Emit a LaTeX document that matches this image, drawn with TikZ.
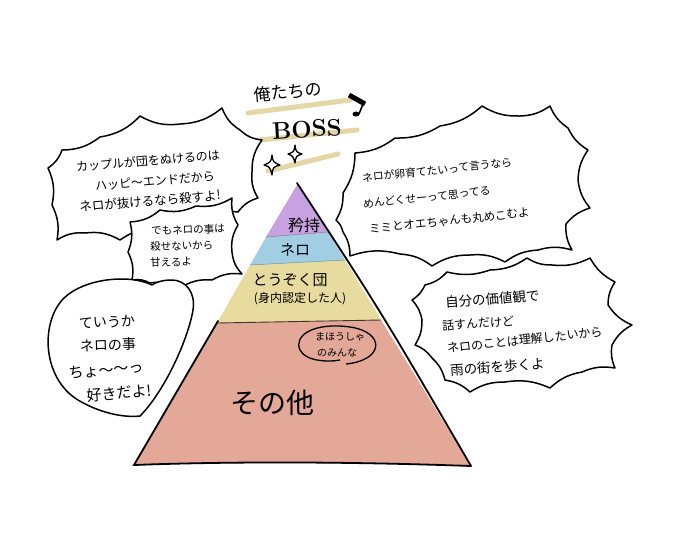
\documentclass[tikz,border=0pt]{standalone}
\usepackage{fontspec}
\newfontfamily\jp{Noto Sans CJK JP}
\definecolor{lvpurple}{RGB}{200,162,224}
\definecolor{lvblue}{RGB}{162,206,228}
\definecolor{lvyellow}{RGB}{231,219,160}
\definecolor{lvpink}{RGB}{227,168,152}
\definecolor{lvstripe}{RGB}{228,214,165}
\begin{document}
\begin{tikzpicture}[x=1pt,y=-1pt,
  bub/.style={draw=black, fill=white, line width=1.5pt, line join=round},
  jt/.style={font=\jp\fontsize{#1}{#1}\selectfont, inner sep=0pt},
  stripe/.style={draw=lvstripe, line width=5pt, line cap=round},
  sparkle/.style={draw=black, fill=white, line width=1.3pt, line join=round}]
\useasboundingbox (0,0) rectangle (680,549);
\fill[white] (0,0) rectangle (680,549);

% ---------- title ----------
\draw[stripe] (248,113) -- (350,100);
\draw[stripe] (250,141) -- (357,130);
\draw[stripe] (268,171) -- (338,154);
\node[jt=17, rotate=5] (title1) at (288,92) {俺たちの};
\node[font=\fontsize{24}{24}\selectfont\bfseries, inner sep=0pt, rotate=3] (title2) at (307,129) {BOSS};
\draw[line width=5pt] (349,95) -- (365,104);
\draw[line width=1.5pt] (363,104) -- (359,114);
\fill (356,114) ellipse (3.5 and 2.5);
\draw[sparkle] (272,155) .. controls (273,162) .. (280,165) .. controls (273,167) .. (272,175) .. controls (270,167) .. (264,165) .. controls (271,162) .. (272,155) -- cycle;
\draw[sparkle] (295,145) .. controls (296,152) .. (302,154) .. controls (296,156) .. (295,163) .. controls (293,156) .. (288,154) .. controls (294,152) .. (295,145) -- cycle;

% ---------- bubble A ----------
\draw[bub, every to/.style={bend right=18}]
  (52,205) to (48,168) to (62,150) to (100,137) to (140,116) to (180,124)
  to (222,108) to (240,130) to (262,140) to (252,172) to (258,198)
  to (238,212) to (160,228) to (120,240) to (85,233) to (57,240) to (52,205) -- cycle;
\node[jt=12, rotate=5] (a1) at (148,161) {カップルが団をぬけるのは};
\node[jt=12, rotate=5] (a2) at (155,181) {ハッピ〜エンドだから};
\node[jt=12.5, rotate=5] (a3) at (150,201) {ネロが抜けるなら殺すよ!};

% ---------- bubble B ----------
\draw[bub, every to/.style={bend right=18}]
  (130,222) to (160,210) to (196,206) to (232,198) to (238,225) to (232,252)
  to (242,274) to (212,280) to (180,288) to (150,283) to (132,280) to (128,252)
  to (130,222) -- cycle;
\node[jt=10.5, rotate=2, anchor=west] (b1) at (151,231) {でもネロの事は};
\node[jt=10.5, rotate=2, anchor=west] (b2) at (150,247) {殺せないから};
\node[jt=10.5, rotate=2, anchor=west] (b3) at (150,263) {甘えるよ};

% ---------- bubble C ----------
\draw[bub, every to/.style={bend right=16}]
  (355,153) to (395,138) to (440,126) to (482,106) to (520,116) to (550,106)
  to (568,128) to (588,150) to (578,180) to (590,208) to (566,224) to (572,250)
  to (538,250) to (505,262) to (470,255) to (432,266) to (400,254) to (350,256)
  to (343,232) to (336,220) to (343,193) to (355,153) -- cycle;
\node[jt=10.8, rotate=6, anchor=west] (c1) at (362,178) {ネロが卵育てたいって言うなら};
\node[jt=10.8, rotate=6, anchor=west] (c2) at (363,204) {めんどくせーって思ってる};
\node[jt=11.5, rotate=6, anchor=west] (c3) at (369,229) {ミミとオエちゃんも丸めこむよ};

% ---------- heart D ----------
\draw[bub] (152,285) .. controls (130,274) and (85,278) .. (64,298)
  .. controls (40,322) and (42,378) .. (78,400)
  .. controls (98,412) and (122,418) .. (140,416)
  .. controls (164,392) and (188,340) .. (193,310)
  .. controls (196,292) and (185,280) .. (172,280)
  .. controls (163,280) and (156,282) .. (152,285) -- cycle;
\node[jt=14, rotate=2] (d1) at (107,322) {ていうか};
\node[jt=14, rotate=2] (d2) at (108,345) {ネロの事};
\node[jt=15, rotate=5] (d3) at (106,370) {ちょ〜〜っ};
\node[jt=15, rotate=5] (d4) at (119,393) {好きだよ!};

% ---------- bubble E ----------
\draw[bub, every to/.style={bend right=16}]
  (425,285) to (447,272) to (490,270) to (527,258) to (552,265) to (590,258)
  to (615,282) to (608,305) to (632,325) to (612,345) to (615,368) to (582,372)
  to (550,388) to (505,382) to (470,392) to (445,380) to (432,358) to (415,345)
  to (422,320) to (412,300) to (425,285) -- cycle;
\node[jt=13.5, rotate=4, anchor=west] (e1) at (445,302) {自分の価値観で};
\node[jt=12, rotate=4, anchor=west] (e2) at (442,326) {話すんだけど};
\node[jt=12, rotate=6, anchor=west] (e3) at (447,348) {ネロのことは理解したいから};
\node[jt=13.5, rotate=4, anchor=west] (e4) at (450,370) {雨の街を歩くよ};

% ---------- pyramid ----------
\fill[lvpink] (217,323) -- (381,320) -- (470,465) .. controls (360,463) and (240,462) .. (134,465) -- cycle;
\fill[lvyellow] (250,265) -- (345,260) -- (381,320) -- (217,323) -- cycle;
\fill[lvblue] (266,237) -- (328,232) -- (345,260) -- (250,265) -- cycle;
\fill[lvpurple] (297,185) -- (328,232) -- (266,237) -- cycle;
\draw[lvpurple!70!black, line width=0.5pt] (266,237) -- (328,232);
\draw[lvblue!70!black, line width=0.5pt] (250,265) -- (345,260);
\draw[black!70!lvpink, line width=0.9pt] (217,323) -- (381,320);
\draw[line width=1.8pt, line cap=round] (297,183) .. controls (380,310) .. (471,466);
\draw[line width=1.8pt, line cap=round] (218,321) -- (134,465)
  .. controls (240,461) and (360,462) .. (471,466);

\node[jt=16] (p1) at (304,225) {矜持};
\node[jt=15] (p2) at (295,250) {ネロ};
\node[jt=15] (p3) at (290,280) {とうぞく団};
\node[jt=12] (p4) at (300,299) {(身内認定した人)};
\node[jt=10] (p5) at (340,337) {まほうしゃ};
\node[jt=10] (p6) at (337,353) {のみんな};
\draw[line width=1.3pt] (346,364) .. controls (385,360) and (385,332) .. (350,327)
  .. controls (315,322) and (293,335) .. (300,350) .. controls (306,362) and (330,362) .. (340,360);
\node[jt=28] (p7) at (272,403) {その他};
\end{tikzpicture}
\end{document}
